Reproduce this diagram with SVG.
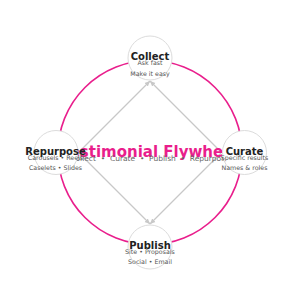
<svg xmlns="http://www.w3.org/2000/svg" width="300" height="300" viewBox="0 0 300 300">
<style>
.ring{fill:none;stroke:#e91e8c;stroke-width:1.6}
.edge{fill:none;stroke:#c8c8c8;stroke-width:1.2}
.node circle{fill:#fff;stroke:#dcdcdc;stroke-width:1}
.t{font-family:"DejaVu Sans",sans-serif;font-weight:bold;font-size:10px;fill:#222;text-anchor:middle}
.s{font-family:"DejaVu Sans",sans-serif;font-size:6.3px;fill:#555;text-anchor:middle}
.title{font-family:"DejaVu Sans",sans-serif;font-weight:bold;font-size:15px;fill:#e91e8c;text-anchor:middle}
.sub{font-family:"DejaVu Sans",sans-serif;font-size:7.5px;fill:#666;text-anchor:middle}
</style>
<defs>
<marker id="arr" viewBox="0 0 10 10" refX="9" refY="5" markerWidth="6" markerHeight="6" orient="auto" markerUnits="userSpaceOnUse">
<path d="M0,1 L9,5 L0,9 Z" fill="#c8c8c8"/>
</marker>
</defs>
<rect width="300" height="300" fill="#fff"/>
<circle class="ring" cx="150" cy="152.5" r="92"/>
<g id="connectors">
<line class="edge" x1="79" y1="152" x2="150" y2="81" marker-end="url(#arr)"/>
<line class="edge" x1="221" y1="152" x2="150" y2="81" marker-end="url(#arr)"/>
<line class="edge" x1="221" y1="153" x2="150" y2="224" marker-end="url(#arr)"/>
<line class="edge" x1="79" y1="153" x2="150" y2="224" marker-end="url(#arr)"/>
</g>
<g id="center">
<text class="title" x="150" y="157">Testimonial Flywheel</text>
<text class="sub" x="150" y="161">Collect&#160;&#160;•&#160;&#160;Curate&#160;&#160;•&#160;&#160;Publish&#160;&#160;•&#160;&#160;Repurpose</text>
</g>
<g id="collect" class="node">
<circle cx="150" cy="58" r="22"/>
<text class="t" x="150" y="60">Collect</text>
<text class="s" x="150" y="65">Ask fast</text>
<text class="s" x="150" y="75.5">Make it easy</text>
</g>
<g id="curate" class="node">
<circle cx="244.5" cy="152.5" r="22"/>
<text class="t" x="244.5" y="154.5">Curate</text>
<text class="s" x="244.5" y="159.5">Specific results</text>
<text class="s" x="244.5" y="169.5">Names &amp; roles</text>
</g>
<g id="publish" class="node">
<circle cx="150" cy="247" r="22"/>
<text class="t" x="150" y="249">Publish</text>
<text class="s" x="150" y="254">Site • Proposals</text>
<text class="s" x="150" y="264">Social • Email</text>
</g>
<g id="repurpose" class="node">
<circle cx="56" cy="152.5" r="22"/>
<text class="t" x="55.5" y="154.5">Repurpose</text>
<text class="s" x="55.5" y="159.5">Carousels • Reels</text>
<text class="s" x="55.5" y="169.5">Caselets • Slides</text>
</g>
</svg>
